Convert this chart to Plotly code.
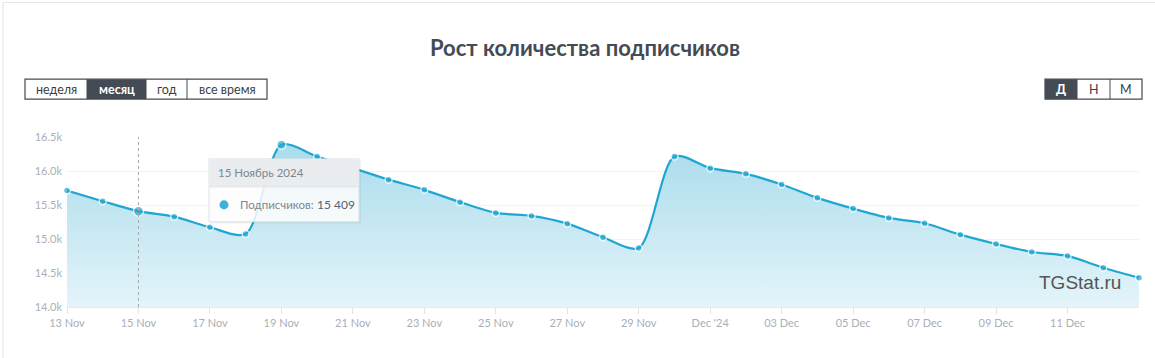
import plotly.graph_objects as go
import pandas as pd

# ---------------- data ----------------
dates = pd.date_range("2024-11-13", "2024-12-13", freq="D")
subscribers = [15712, 15556, 15409, 15329, 15173, 15075, 16386, 16213, 16042, 15873,
               15723, 15542, 15384, 15340, 15226, 15026, 14868, 16213, 16042, 15958,
               15801, 15605, 15447, 15310, 15232, 15064, 14927, 14809, 14751, 14578,
               14431]
tick_dates = pd.date_range("2024-11-13", "2024-12-11", freq="2D")
tick_labels = ["13 Nov", "15 Nov", "17 Nov", "19 Nov", "21 Nov", "23 Nov", "25 Nov",
               "27 Nov", "29 Nov", "Dec '24", "03 Dec", "05 Dec", "07 Dec", "09 Dec", "11 Dec"]
y_ticks = [14000, 14500, 15000, 15500, 16000, 16500]
y_tick_labels = ["14.0k", "14.5k", "15.0k", "15.5k", "16.0k", "16.5k"]
title = "Рост количества подписчиков"
period_buttons = ["неделя", "месяц", "год", "все время"]
scale_buttons = ["Д", "Н", "М"]
hover_index = 2
hover_label = "15 Ноябрь 2024"
series_name = "Подписчиков:"

# ---------------- layout geometry ----------------
W, H = 1155, 358
L, R, T, B = 67, 1139, 137, 307.5   # plot area pixel box

def px(x):
    return (x - L) / (R - L)

def py(y):
    return (B - y) / (B - T)

LINE = "#1fa6d1"
FONT = "Lato, 'Open Sans', 'DejaVu Sans', sans-serif"

sizes = [7] * len(subscribers)
sizes[hover_index] = 10
sizes[6] = 9

fig = go.Figure()
fig.add_trace(go.Scatter(
    x=dates, y=subscribers, mode="lines+markers",
    line=dict(color=LINE, width=2.2, shape="spline", smoothing=0.8),
    marker=dict(size=sizes, color=LINE, line=dict(color="white", width=1.5)),
    fill="tozeroy",
    fillgradient=dict(type="vertical", start=14000, stop=16400,
                      colorscale=[[0, "#e4f4fa"], [1, "#a9dcec"]]),
    cliponaxis=False, hoverinfo="skip", showlegend=False,
))

shapes = []
annotations = []

def text(t, x, y, size, color, anchor="center", family=FONT):
    annotations.append(dict(text=t, xref="paper", yref="paper", x=px(x), y=py(y),
                            xanchor=anchor, yanchor="middle", showarrow=False,
                            font=dict(size=size, color=color, family=family)))

# card border (left/top)
shapes.append(dict(type="line", xref="paper", yref="paper", x0=px(3), x1=px(3),
                   y0=py(2), y1=py(360), line=dict(color="#e3e5e8", width=1), layer="below"))
shapes.append(dict(type="line", xref="paper", yref="paper", x0=px(3), x1=px(1160),
                   y0=py(2), y1=py(2), line=dict(color="#e3e5e8", width=1), layer="below"))

# crosshair
shapes.append(dict(type="line", xref="x", yref="paper", x0=dates[hover_index], x1=dates[hover_index],
                   y0=0, y1=1, line=dict(color="#a8a8a8", width=1, dash="3px,3px")))

# title
text(f"<b>{title}</b>", 585, 47, 22, "#454b54")

# button groups
def button_group(labels, edges, active, top=79, bottom=99):
    for i, lab in enumerate(labels):
        x0, x1 = edges[i], edges[i + 1]
        if i == active:
            shapes.append(dict(type="rect", xref="paper", yref="paper",
                               x0=px(x0), x1=px(x1), y0=py(bottom), y1=py(top),
                               fillcolor="#454b54", line=dict(width=0)))
        text(f"<b>{lab}</b>" if i == active else lab, (x0 + x1) / 2, (top + bottom) / 2,
             12.5, "white" if i == active else "#3a3f46")
        if 0 < i:
            shapes.append(dict(type="line", xref="paper", yref="paper",
                               x0=px(x0), x1=px(x0), y0=py(bottom), y1=py(top),
                               line=dict(color="#454b54", width=1)))
    shapes.append(dict(type="rect", xref="paper", yref="paper",
                       x0=px(edges[0]), x1=px(edges[-1]), y0=py(bottom), y1=py(top),
                       line=dict(color="#454b54", width=1.2)))

button_group(period_buttons, [25, 87, 146, 187, 267], 1)
button_group(scale_buttons, [1045, 1077, 1110, 1142], 0)

# watermark
text("TGStat.ru", 1123, 283, 19, "#555555", anchor="right",
     family="'Liberation Sans', Arial, sans-serif")

# tooltip
tx0, tx1, ty0, ty1, tyh = 209, 359, 159, 222, 187
shapes.append(dict(type="rect", xref="paper", yref="paper", x0=px(tx0 + 1), x1=px(tx1 + 2),
                   y0=py(ty1 + 2), y1=py(ty0 + 1), fillcolor="rgba(0,0,0,0.05)",
                   line=dict(width=0)))
shapes.append(dict(type="rect", xref="paper", yref="paper", x0=px(tx0), x1=px(tx1),
                   y0=py(ty1), y1=py(ty0), fillcolor="rgba(255,255,255,0.85)",
                   line=dict(color="#dde1e5", width=1)))
shapes.append(dict(type="rect", xref="paper", yref="paper", x0=px(tx0 + 0.5), x1=px(tx1 - 0.5),
                   y0=py(tyh), y1=py(ty0 + 0.5), fillcolor="rgba(232,236,239,0.92)",
                   line=dict(width=0)))
shapes.append(dict(type="line", xref="paper", yref="paper", x0=px(tx0), x1=px(tx1),
                   y0=py(tyh), y1=py(tyh), line=dict(color="#dde1e5", width=1)))
shapes.append(dict(type="circle", xref="paper", yref="paper", x0=px(219.5), x1=px(228.5),
                   y0=py(209.5), y1=py(200.5), fillcolor="#3cb2d8", line=dict(width=0)))
text(hover_label, 216, 173, 11.5, "#80868e", anchor="left")
text(series_name, 238, 205, 11.5, "#80868e", anchor="left")
val = f"{subscribers[hover_index]:,}".replace(",", " ")
text(val, 315, 205, 12, "#5b6068", anchor="left")

fig.update_layout(
    width=W, height=H,
    margin=dict(l=L, r=W - R, t=T, b=H - B),
    paper_bgcolor="white", plot_bgcolor="white",
    font=dict(family=FONT),
    shapes=shapes, annotations=annotations,
    xaxis=dict(range=[dates[0], dates[-1]], tickvals=list(tick_dates), ticktext=tick_labels,
               showgrid=False, showline=True, linecolor="#e6e8eb", linewidth=1,
               ticks="outside", ticklen=6, tickcolor="#e2e4e7",
               tickfont=dict(size=11, color="#a9afb8"), zeroline=False),
    yaxis=dict(range=[14000, 16500], tickvals=y_ticks, ticktext=y_tick_labels,
               showgrid=True, gridcolor="#f2f3f5", gridwidth=1, zeroline=False,
               tickfont=dict(size=11, color="#a9afb8"), ticks="", ticklabelstandoff=4),
)

fig.write_html("out.html")
